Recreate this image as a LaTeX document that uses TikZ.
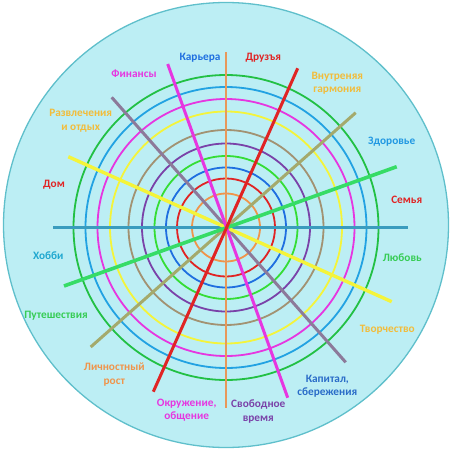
\documentclass[tikz,border=0pt]{standalone}
\usepackage{fontspec}
\setmainfont{Carlito}
\usetikzlibrary{positioning}
\definecolor{bgc}{HTML}{BCEEF4}
\definecolor{rimc}{HTML}{5FBFCB}
\definecolor{orc}{HTML}{F0944A}
\definecolor{redc}{HTML}{E02424}
\definecolor{bluc}{HTML}{1F6FE0}
\definecolor{grnc}{HTML}{35DD35}
\definecolor{purc}{HTML}{7A42A8}
\definecolor{olvc}{HTML}{A29272}
\definecolor{yelc}{HTML}{F4F43A}
\definecolor{magc}{HTML}{E636E0}
\definecolor{skyc}{HTML}{22A2E2}
\definecolor{dgrc}{HTML}{22C044}
\definecolor{tanc}{HTML}{E8985A}
\definecolor{khac}{HTML}{A4AA6C}
\definecolor{lgrc}{HTML}{36DC66}
\definecolor{teac}{HTML}{3A9CBE}
\definecolor{grpc}{HTML}{8C7A9A}
\definecolor{goldc}{HTML}{F2BC3A}
\definecolor{cblc}{HTML}{2A6CC8}
\definecolor{hobc}{HTML}{20A8D0}
\definecolor{labgc}{HTML}{36CC55}
\tikzset{
  ring/.style  ={line width=1.8pt},
  spoke/.style ={line width=3pt},
  lab/.style   ={font=\fontsize{11.3}{13.5}\selectfont\bfseries,align=center,inner sep=0pt},
}

\begin{document}
\begin{tikzpicture}[x=1pt,y=-1pt]
        \useasboundingbox (0,0) rectangle (450,450);
        \fill[bgc,draw=rimc,line width=1.3pt] (226,225) circle (222.5);
        \coordinate (c) at (226,227.5);
        % rings
        \foreach \r/\col in {34/orc,49/redc,60/bluc,71.5/grnc,84/purc,97.5/olvc,
                             116/yelc,128.5/magc,140.5/skyc,152.5/dgrc}
          \draw[ring,\col] (c) circle (\r);
        % spoke ends
        \coordinate (kar) at (226,52);
        \coordinate (svo) at (226,408);
        \coordinate (dru) at (297.7,68.3);
        \coordinate (okr) at (153.3,391.7);
        \coordinate (vnu) at (355.7,112.7);
        \coordinate (lic) at (90.7,347);
        \coordinate (sem) at (396.7,166.7);
        \coordinate (put) at (64,286);
        \coordinate (hob) at (53,227);
        \coordinate (lub) at (407.7,227);
        \coordinate (dom) at (68.3,156.7);
        \coordinate (tvo) at (391.7,301.7);
        \coordinate (raz) at (111.7,97.3);
        \coordinate (kap) at (345.7,362.3);
        \coordinate (fin) at (167.7,64);
        \coordinate (vre) at (287.7,397.7);
        \draw[spoke,tanc,line width=2.8pt] (kar) -- (svo);
        \draw[spoke,teac] (hob) -- (lub);
        \draw[spoke,khac] (vnu) -- (lic);
        \draw[spoke,grpc] (raz) -- (kap);
        \draw[spoke,yelc,line width=3.4pt] (dom) -- (tvo);
        \draw[spoke,lgrc,line width=3.6pt] (sem) -- (put);
        \draw[spoke,magc] (fin) -- (vre);
        \draw[spoke,redc] (dru) -- (okr);
        % labels
        \node[lab,text=bluc]  (l1)  at (200,57.3)   {Карьера};
        \node[lab,text=redc]  (l2)  at (263.3,57.3) {Друзъя};
        \node[lab,text=magc]  (l3)  at (134,74)     {Финансы};
        \node[lab,text=goldc] (l4)  at (337.3,83.3) {Внутреняя\\гармония};
        \node[lab,text=goldc] (l5)  at (80.7,120.5) {Развлечения\\и отдых};
        \node[lab,text=skyc!80!bluc] (l6) at (391.7,141.7) {Здоровье};
        \node[lab,text=redc]  (l7)  at (54,184.3)   {Дом};
        \node[lab,text=redc]  (l8)  at (406.7,200)  {Семья};
        \node[lab,text=hobc]  (l9)  at (48.3,256)   {Хобби};
        \node[lab,text=labgc] (l10) at (402.3,257.7) {Любовь};
        \node[lab,text=labgc] (l11) at (56,315.7)   {Путешествия};
        \node[lab,text=goldc] (l12) at (387.3,330)  {Творчество};
        \node[lab,text=orc]   (l13) at (114.3,374.7) {Личностный\\рост};
        \node[lab,text=cblc]  (l14) at (327.3,386.3) {Капитал,\\сбережения};
        \node[lab,text=magc]  (l15) at (186.7,410)  {Окружение,\\общение};
        \node[lab,text=purc]  (l16) at (258.3,411.7) {Свободное\\время};
      \end{tikzpicture}
\end{document}
